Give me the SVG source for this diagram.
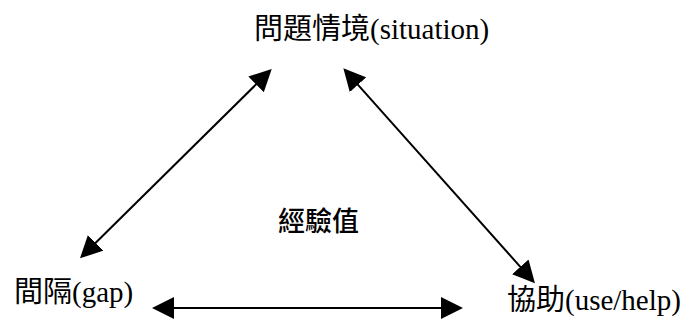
<svg xmlns="http://www.w3.org/2000/svg" width="684" height="323" viewBox="0 0 684 323">
  <style>
    .lbl { font-family: "Liberation Serif", "Noto Sans CJK TC", serif; font-size: 29px; fill: #000; }
    .ctr { font-family: "Noto Sans CJK TC", "Noto Sans CJK SC", sans-serif; font-size: 27px; font-weight: 500; fill: #000; }
    .conn { stroke: #000; stroke-width: 2; fill: none; marker-start: url(#ah); marker-end: url(#ah); }
  </style>
  <defs>
    <marker id="ah" markerUnits="userSpaceOnUse" markerWidth="22" markerHeight="22" viewBox="0 0 22 22" refX="12" refY="11" orient="auto-start-reverse">
      <path d="M0,0 L22,11 L0,22 z" fill="#000"/>
    </marker>
  </defs>
  <rect width="684" height="323" fill="#fff"/>
  <g id="connectors">
    <line class="conn" x1="264.6" y1="76" x2="87.1" y2="251.3"/>
    <line class="conn" x1="350" y1="75.8" x2="528.3" y2="275.8"/>
    <line class="conn" x1="162" y1="308" x2="453" y2="308"/>
  </g>
  <g id="situation"><text class="lbl" x="254" y="39">問題情境(situation)</text></g>
  <g id="gap"><text class="lbl" x="14" y="302">間隔(gap)</text></g>
  <g id="help"><text class="lbl" x="507" y="310">協助(use/help)</text></g>
  <g id="experience"><text class="ctr" x="278" y="231">經驗值</text></g>
</svg>
